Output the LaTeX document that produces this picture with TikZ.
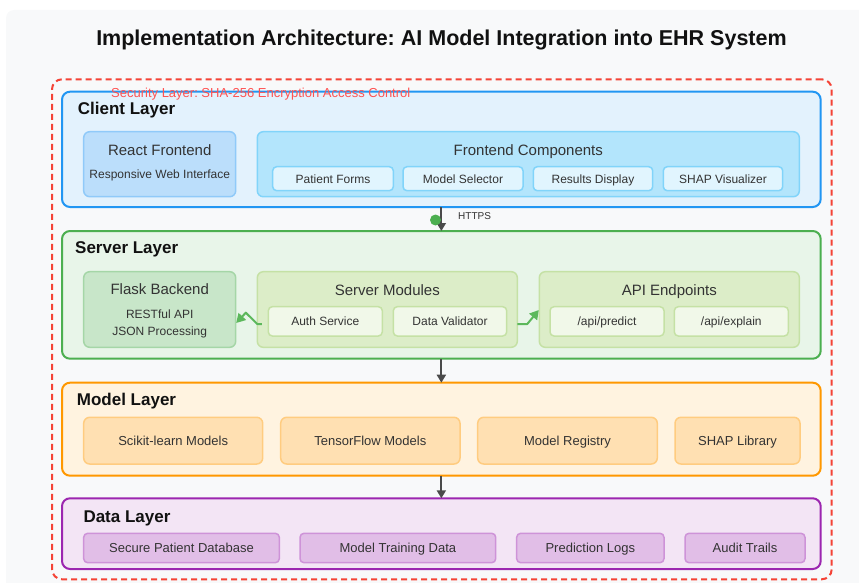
\documentclass[tikz,border=0pt]{standalone}
\usepackage{fontspec}
\setmainfont{Liberation Sans}
\usetikzlibrary{arrows.meta,calc}
\frenchspacing
\definecolor{bgc}{HTML}{F8F9FA}
\definecolor{secc}{HTML}{F44336}
\definecolor{seclbl}{HTML}{FF5252}
\definecolor{txt}{HTML}{333333}
\definecolor{ttl}{HTML}{111111}
\definecolor{arr}{HTML}{4A4A4A}
\definecolor{cB}{HTML}{2196F3}\definecolor{cF}{HTML}{E3F2FD}
\definecolor{rF}{HTML}{BBDEFB}\definecolor{rB}{HTML}{90CAF9}
\definecolor{fcF}{HTML}{B3E5FC}\definecolor{fcB}{HTML}{81D4FA}
\definecolor{fsF}{HTML}{E1F5FE}
\definecolor{sB}{HTML}{4CAF50}\definecolor{sF}{HTML}{E8F5E9}
\definecolor{flF}{HTML}{C8E6C9}\definecolor{flB}{HTML}{A5D6A7}
\definecolor{smF}{HTML}{DCEDC8}\definecolor{smB}{HTML}{C5E1A5}
\definecolor{ssF}{HTML}{F1F8E9}
\definecolor{grn}{HTML}{5CB85C}
\definecolor{mB}{HTML}{FF9800}\definecolor{mF}{HTML}{FFF3E0}
\definecolor{msF}{HTML}{FFE0B2}\definecolor{msB}{HTML}{FFCC80}
\definecolor{dB}{HTML}{9C27B0}\definecolor{dF}{HTML}{F3E5F5}
\definecolor{dsF}{HTML}{E1BEE7}\definecolor{dsB}{HTML}{CE93D8}
\newcommand{\myfs}[1]{\fontsize{#1}{#1}\selectfont}
\newcommand{\bx}[7]{%
 \pgfmathsetmacro\bxcx{(#3+#5)/2}%
 \pgfmathsetmacro\bxcy{(#4+#6)/2}%
 \pgfmathsetmacro\bxw{#5-#3}%
 \pgfmathsetmacro\bxh{#6-#4}%
 \node[#2, minimum width=\bxw pt, minimum height=\bxh pt] (#1) at (\bxcx,\bxcy) {#7};}
\tikzset{
 layerbox/.style={draw=#1, line width=2pt, rounded corners=8pt, inner sep=0pt, outer sep=0pt},
 innerbox/.style={line width=1.5pt, rounded corners=6pt, inner sep=0pt, outer sep=0pt},
 subbox/.style={line width=1.5pt, rounded corners=4pt, inner sep=0pt, outer sep=0pt, text=txt},
 s12/.style={font=\myfs{12}, text height=8.6pt, text depth=0pt},
 s13/.style={font=\myfs{13}, text height=9.3pt, text depth=0pt},
 layertitle/.style={font=\bfseries\myfs{17}, text=ttl, anchor=west, inner sep=0pt, text height=12.2pt, text depth=0pt},
 boxtitle/.style={font=\myfs{15}, text=txt, inner sep=0pt, text height=10.7pt, text depth=0pt},
 boxline/.style={font=\myfs{12}, text=txt, inner sep=0pt, text height=8.6pt, text depth=0pt},
 conn/.style={draw=arr, line width=2pt, -{Triangle[width=9pt,length=8pt]}},
 gconn/.style={draw=grn, line width=2pt, line join=round, -{Triangle[width=10pt,length=9pt]}},
}
\begin{document}
\begin{tikzpicture}[x=1pt,y=-1pt]
\useasboundingbox (0,0) rectangle (859,583);
\clip (0,0) rectangle (859,583);
% background
\bx{bg}{fill=bgc, rounded corners=8pt, inner sep=0pt}{6}{10}{900}{640}{}
% title
\node[font=\bfseries\myfs{21.5}, text=ttl, inner sep=0pt, text height=15.4pt, text depth=0pt] (title) at (441.5,38) {Implementation Architecture: AI Model Integration into EHR System};
% security layer
\bx{sec}{draw=secc, line width=2pt, dash pattern=on 6pt off 4pt, rounded corners=10pt, inner sep=0pt}{52}{79.3}{831.7}{579.3}{}
% layers
\bx{client}{layerbox=cB, fill=cF}{62}{91.7}{820.7}{207}{}
\bx{server}{layerbox=sB, fill=sF}{62}{231}{820.7}{358.7}{}
\bx{model}{layerbox=mB, fill=mF}{62}{382.7}{820.7}{475.7}{}
\bx{data}{layerbox=dB, fill=dF}{62}{498.3}{820.7}{569}{}
\node[text=seclbl, font=\myfs{13}, anchor=west, inner sep=0pt, text height=9.3pt, text depth=0pt] (seclabel) at (111,93) {Security Layer: SHA-256 Encryption Access Control};
% layer titles
\node[layertitle] (clientT) at (77.7,108.3) {Client Layer};
\node[layertitle] (serverT) at (75,247.8) {Server Layer};
\node[layertitle] (modelT) at (76.7,399.7) {Model Layer};
\node[layertitle] (dataT) at (83.3,516.2) {Data Layer};
% client layer content
\bx{react}{innerbox, draw=rB, fill=rF}{83.7}{131.7}{235.7}{196.7}{}
\node[boxtitle] (reactT) at (159.7,150) {React Frontend};
\node[boxline] (reactS) at (159.7,174) {Responsive Web Interface};
\bx{fc}{innerbox, draw=fcB, fill=fcF}{257.3}{131.7}{799.3}{196.7}{}
\node[boxtitle] (fcT) at (528.3,150) {Frontend Components};
\bx{pf}{subbox, s12, draw=fcB, fill=fsF}{272.7}{166.7}{393.3}{190.7}{Patient Forms}
\bx{ms}{subbox, s12, draw=fcB, fill=fsF}{403}{166.7}{523}{190.7}{Model Selector}
\bx{rd}{subbox, s12, draw=fcB, fill=fsF}{533.3}{166.7}{652.7}{190.7}{Results Display}
\bx{sv}{subbox, s12, draw=fcB, fill=fsF}{663.3}{166.7}{782.7}{190.7}{SHAP Visualizer}
% server layer content
\bx{flask}{innerbox, draw=flB, fill=flF}{83.7}{271.7}{235.7}{347.3}{}
\node[boxtitle] (flaskT) at (159.7,289.5) {Flask Backend};
\node[boxline] (flaskA) at (159.7,314) {RESTful API};
\node[boxline] (flaskB) at (159.7,331) {JSON Processing};
\bx{sm}{innerbox, draw=smB, fill=smF}{257.3}{271.7}{517.3}{347.3}{}
\node[boxtitle] (smT) at (387.3,290) {Server Modules};
\bx{auth}{subbox, s12, draw=smB, fill=ssF}{268.3}{306.7}{382.3}{336}{Auth Service}
\bx{dv}{subbox, s12, draw=smB, fill=ssF}{393.3}{306.7}{506.7}{336}{Data Validator}
\bx{api}{innerbox, draw=smB, fill=smF}{539.3}{271.7}{799.3}{347.3}{}
\node[boxtitle] (apiT) at (669.3,290) {API Endpoints};
\bx{pred}{subbox, s12, draw=smB, fill=ssF}{550}{306.7}{664}{336}{/api/predict}
\bx{expl}{subbox, s12, draw=smB, fill=ssF}{674.3}{306.7}{788.3}{336}{/api/explain}
% model layer content
\bx{sk}{subbox, s13, draw=msB, fill=msF, rounded corners=6pt}{83.7}{417.3}{262.7}{464}{Scikit-learn Models}
\bx{tf}{subbox, s13, draw=msB, fill=msF, rounded corners=6pt}{280.7}{417.3}{460}{464}{TensorFlow Models}
\bx{mr}{subbox, s13, draw=msB, fill=msF, rounded corners=6pt}{477.7}{417.3}{657.3}{464}{Model Registry}
\bx{shap}{subbox, s13, draw=msB, fill=msF, rounded corners=6pt}{675}{417.3}{800}{464}{SHAP Library}
% data layer content
\bx{spd}{subbox, s13, draw=dsB, fill=dsF}{83.7}{533.3}{279.3}{562.7}{Secure Patient Database}
\bx{mtd}{subbox, s13, draw=dsB, fill=dsF}{300}{533.3}{495.7}{562.7}{Model Training Data}
\bx{pl}{subbox, s13, draw=dsB, fill=dsF}{516.7}{533.3}{664}{562.7}{Prediction Logs}
\bx{at}{subbox, s13, draw=dsB, fill=dsF}{685}{533.3}{805}{562.7}{Audit Trails}
% connectors
\draw[conn] (client.south) -- (server.north);
\node[circle, fill=sB, minimum size=11pt, inner sep=0pt] (dot) at (435.5,220) {};
\node[font=\myfs{10}, text=txt, anchor=west, inner sep=0pt, text height=7.2pt, text depth=0pt] (https) at (458,215.5) {HTTPS};
\draw[conn] (server.south) -- (model.north);
\draw[conn] (model.south) -- (data.north);
\draw[gconn] ($(sm.west)+(4.5,14.5)$) -- ($(sm.west)+(0,14.5)$) -- ($(sm.west)+(-11.5,3.2)$) -- ($(flask.east)+(0.5,13.5)$);
\draw[gconn] ($(sm.east)+(0,14.5)$) -- ($(sm.east)+(10,14.5)$) -- ($(api.west)+(-0.5,0.5)$);
\end{tikzpicture}
\end{document}
